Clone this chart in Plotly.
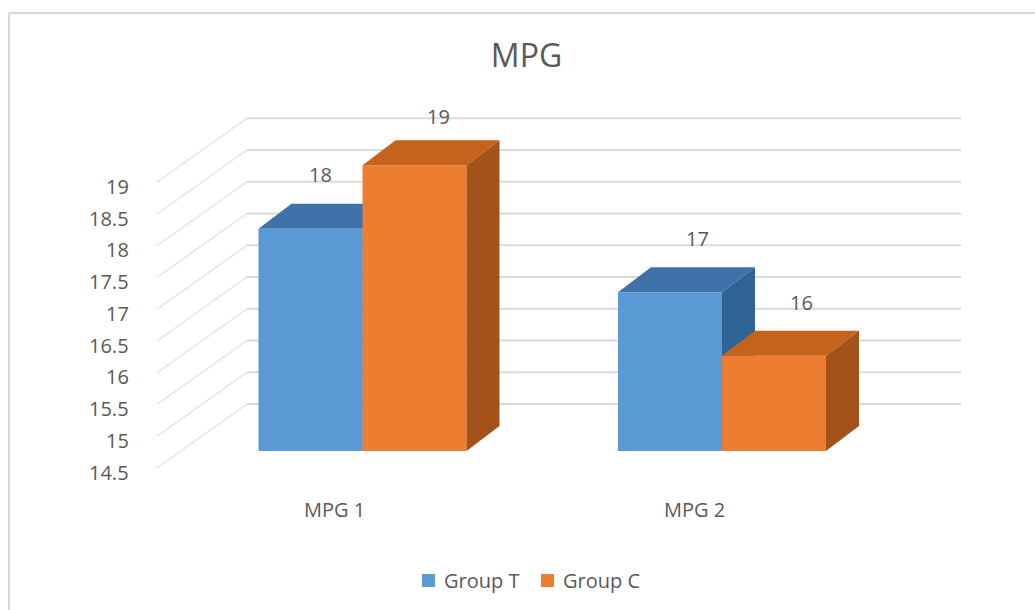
import plotly.graph_objects as go

# ---- chart data ----
categories = ["MPG 1", "MPG 2"]
series_names = ["Group T", "Group C"]
group_t = [18, 17]
group_c = [19, 16]
tick_values = [14.5, 15, 15.5, 16, 16.5, 17, 17.5, 18, 18.5, 19]
tick_labels = ["14.5", "15", "15.5", "16", "16.5", "17", "17.5", "18", "18.5", "19"]
title_text = "MPG"
floor_value = 14.5

series_values = [group_t, group_c]

# ---- styling ----
FRONT = ["#5B9BD5", "#ED7D31"]
TOP = ["#3F72A9", "#C5631D"]
SIDE = ["#306496", "#A3521A"]
TEXT = "#595959"
GRID = "#DADADA"
WALL = "#E4E4E4"
BORDER = "#D9D9D9"
FONT = "Open Sans"

W, H = 1035, 610

# projected box geometry (pixels)
CAT_PX0, CAT_STEP = 362.5, 359.5      # first category centre, distance between categories
FLOOR_PX, PX_PER_UNIT = 451, 63.5     # floor line of the bar plane, pixels per value unit
GROUP_PX = 208                        # width of a pair of bars
DEPTH_PX = (33, -25)                  # bar depth offset (right, up)
BACK_SHIFT = -47                      # back wall relative to bar plane
FRONT_SHIFT = 17                      # front edge of side wall relative to bar plane
WALL_FRONT_X, WALL_BACK_X, WALL_RIGHT_X = 157, 247, 961
TICK_RIGHT_X, TICK_SHIFT = 131, 21
CAT_LABEL_DX, CAT_LABEL_DY = -28, 58.5
VAL_LABEL_DX, VAL_LABEL_DY = 27, -54
# per-label nudges (series, category) -> (dx, dy) in pixels
VAL_LABEL_NUDGE = {(0, 0): (-17, 0), (1, 0): (-3, 5), (0, 1): (0, 0), (1, 1): (0, 1)}


def px_to_x(px):
    return (px - CAT_PX0) / CAT_STEP


def ux(dpx):
    return dpx / CAT_STEP


def uy(dpx):
    # positive pixel offsets point downwards
    return -dpx / PX_PER_UNIT


x_range = [px_to_x(0), px_to_x(W)]
y_range = [floor_value + (FLOOR_PX - H) / PX_PER_UNIT, floor_value + FLOOR_PX / PX_PER_UNIT]

positions = list(range(len(categories)))
group_w = GROUP_PX / CAT_STEP
bar_w = group_w / len(series_values)
ddx, ddy = ux(DEPTH_PX[0]), uy(DEPTH_PX[1])

fig = go.Figure()
shapes = []
annotations = []

# side wall diagonals and back-wall gridlines
x_wf, x_wb, x_wr = px_to_x(WALL_FRONT_X), px_to_x(WALL_BACK_X), px_to_x(WALL_RIGHT_X)
for v, lab in zip(tick_values, tick_labels):
    yb = v + uy(BACK_SHIFT)
    yf = v + uy(FRONT_SHIFT)
    shapes.append(dict(type="line", xref="x", yref="y", x0=x_wf, y0=yf, x1=x_wb, y1=yb,
                       line=dict(color=WALL, width=1.5), layer="below"))
    shapes.append(dict(type="line", xref="x", yref="y", x0=x_wb, y0=yb, x1=x_wr, y1=yb,
                       line=dict(color=GRID, width=2), layer="below"))
    annotations.append(dict(x=px_to_x(TICK_RIGHT_X), y=v + uy(TICK_SHIFT), xref="x", yref="y",
                            text=lab, showarrow=False, xanchor="right", yanchor="middle",
                            font=dict(family=FONT, size=20, color=TEXT)))


def box_faces(left, right, top, s):
    top_path = (f"M {left},{top} L {right},{top} L {right + ddx},{top + ddy} "
                f"L {left + ddx},{top + ddy} Z")
    side_path = (f"M {right},{floor_value} L {right},{top} L {right + ddx},{top + ddy} "
                 f"L {right + ddx},{floor_value + ddy} Z")
    return [
        dict(type="path", xref="x", yref="y", path=side_path, fillcolor=SIDE[s],
             line=dict(width=0), layer="between" if s == 0 else "above"),
        dict(type="path", xref="x", yref="y", path=top_path, fillcolor=TOP[s],
             line=dict(width=0), layer="between" if s == 0 else "above"),
    ]


for s, (name, vals) in enumerate(zip(series_names, series_values)):
    fig.add_trace(go.Bar(
        name=name, x=positions, y=[v - floor_value for v in vals], base=floor_value,
        marker=dict(color=FRONT[s], line=dict(width=0)), showlegend=False,
        hovertext=[f"{name}: {v}" for v in vals], hoverinfo="text",
    ))
    for i, v in enumerate(vals):
        left = positions[i] - group_w / 2 + s * bar_w
        right = left + bar_w
        shapes.extend(box_faces(left, right, v, s))
        ndx, ndy = VAL_LABEL_NUDGE.get((s, i), (0, 0))
        annotations.append(dict(
            x=(left + right) / 2 + ux(VAL_LABEL_DX + ndx), y=v + uy(VAL_LABEL_DY + ndy),
            xref="x", yref="y", text=str(v), showarrow=False,
            xanchor="center", yanchor="middle", font=dict(family=FONT, size=20, color=TEXT)))

# category labels along the front edge of the floor
for p, cat in zip(positions, categories):
    annotations.append(dict(x=p + ux(CAT_LABEL_DX), y=floor_value + uy(CAT_LABEL_DY),
                            xref="x", yref="y", text=cat, showarrow=False,
                            xanchor="center", yanchor="middle",
                            font=dict(family=FONT, size=20, color=TEXT)))

# legend
LEGEND_Y = 580.5
LEGEND_SWATCH = [(422, 442), (541, 561)]   # swatch left, text left
SW = 13
for s, (name, (sx, tx)) in enumerate(zip(series_names, LEGEND_SWATCH)):
    shapes.append(dict(type="rect", xref="paper", yref="paper",
                       x0=sx / W, x1=(sx + SW) / W,
                       y0=1 - (LEGEND_Y + SW / 2) / H, y1=1 - (LEGEND_Y - SW / 2) / H,
                       fillcolor=FRONT[s], line=dict(width=0)))
    annotations.append(dict(x=tx / W, y=1 - LEGEND_Y / H, xref="paper", yref="paper",
                            text=name, showarrow=False, xanchor="left", yanchor="middle",
                            font=dict(family=FONT, size=20, color=TEXT)))

# chart area border (left and top edges visible)
shapes.append(dict(type="line", xref="paper", yref="paper", x0=9 / W, x1=9 / W,
                   y0=1 - 13 / H, y1=-0.05, line=dict(color=BORDER, width=2)))
shapes.append(dict(type="line", xref="paper", yref="paper", x0=9 / W, x1=1.05,
                   y0=1 - 13 / H, y1=1 - 13 / H, line=dict(color=BORDER, width=2)))

fig.update_layout(
    width=W, height=H,
    margin=dict(l=0, r=0, t=0, b=0),
    paper_bgcolor="white", plot_bgcolor="white",
    barmode="group", bargap=1 - group_w, bargroupgap=0,
    title=dict(text=title_text, x=526.5 / W, y=1 - 56 / H, xanchor="center", yanchor="middle",
               font=dict(family=FONT, size=32, color=TEXT)),
    xaxis=dict(range=x_range, visible=False, fixedrange=True),
    yaxis=dict(range=y_range, visible=False, fixedrange=True),
    shapes=shapes,
    annotations=annotations,
    showlegend=False,
)

fig.write_html("out.html")
